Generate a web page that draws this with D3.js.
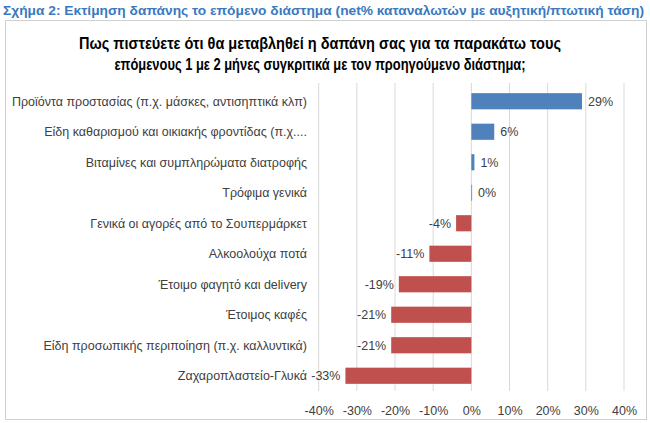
<!DOCTYPE html>
<html>
<head>
<meta charset="utf-8">
<script src="https://cdn.jsdelivr.net/npm/d3@7"></script>
<style>
  body { margin: 0; background: #fff; }
  text { font-family: "Liberation Sans", Arial, sans-serif; }
</style>
</head>
<body>
<div id="chart"></div>
<script>
// Chart data
const categories = [
  'Προϊόντα προστασίας (π.χ. μάσκες, αντισηπτικά κλπ)',
  'Είδη καθαρισμού και οικιακής φροντίδας (π.χ....',
  'Βιταμίνες και συμπληρώματα διατροφής',
  'Τρόφιμα γενικά',
  'Γενικά οι αγορές από το Σουπερμάρκετ',
  'Αλκοολούχα ποτά',
  'Έτοιμο φαγητό και delivery',
  'Έτοιμος καφές',
  'Είδη προσωπικής περιποίηση (π.χ. καλλυντικά)',
  'Ζαχαροπλαστείο-Γλυκά'
];
const values = [29, 6, 0.8, 0.2, -4, -11, -19, -21, -21, -33];
const tickValues = [-40, -30, -20, -10, 0, 10, 20, 30, 40];

const subtitle = 'Σχήμα 2: Εκτίμηση δαπάνης το επόμενο διάστημα (net% καταναλωτών με αυξητική/πτωτική τάση)';
const titleLines = [
  'Πως πιστεύετε ότι θα μεταβληθεί η δαπάνη σας για τα παρακάτω τους',
  'επόμενους 1 με 2 μήνες συγκριτικά με τον προηγούμενο διάστημα;'
];

const width = 650;
const height = 423;

const svg = d3.select('#chart').append('svg')
  .attr('width', width)
  .attr('height', height);

// Subtitle above the frame
svg.append('text')
  .attr('x', 3)
  .attr('y', 15)
  .attr('font-size', 12.5)
  .attr('font-weight', 'bold')
  .attr('fill', '#3a79c0')
  .attr('textLength', 641)
  .attr('lengthAdjust', 'spacingAndGlyphs')
  .text(subtitle);

// Frame around the chart
svg.append('rect')
  .attr('x', 5.5)
  .attr('y', 20.5)
  .attr('width', 641)
  .attr('height', 399)
  .attr('fill', '#fff')
  .attr('stroke', '#cfcfcf');

// Title (two lines, squeezed like a narrow font)
const titleLengths = [482, 411];
svg.selectAll('.title')
  .data(titleLines)
  .join('text')
  .attr('class', 'title')
  .attr('x', 320)
  .attr('y', (d, i) => 48.5 + i * 21)
  .attr('text-anchor', 'middle')
  .attr('font-size', 16.5)
  .attr('font-weight', 'bold')
  .attr('fill', '#000')
  .attr('textLength', (d, i) => titleLengths[i])
  .attr('lengthAdjust', 'spacingAndGlyphs')
  .text(d => d);

// Scales
const x = d3.scaleLinear()
  .domain([-40, 40])
  .range([318.7, 624]);

const y = d3.scaleBand()
  .domain(categories)
  .range([86, 391])
  .paddingInner(0.47)
  .paddingOuter(0.235);

// Gridlines
svg.append('g')
  .selectAll('line')
  .data(tickValues)
  .join('line')
  .attr('x1', d => x(d))
  .attr('x2', d => x(d))
  .attr('y1', 83)
  .attr('y2', 391)
  .attr('stroke', '#d9d9d9')
  .attr('stroke-width', 1);

// Bars
svg.append('g')
  .selectAll('rect')
  .data(values)
  .join('rect')
  .attr('x', d => x(Math.min(0, d)))
  .attr('y', (d, i) => y(categories[i]))
  .attr('width', d => Math.abs(x(d) - x(0)))
  .attr('height', y.bandwidth())
  .attr('fill', d => d >= 0 ? '#4f81bd' : '#c0504d');

// Value labels
svg.append('g')
  .selectAll('text')
  .data(values)
  .join('text')
  .attr('x', d => d >= 0 ? x(d) + 6 : x(d) - 5)
  .attr('y', (d, i) => y(categories[i]) + y.bandwidth() / 2)
  .attr('dy', '0.35em')
  .attr('text-anchor', d => d >= 0 ? 'start' : 'end')
  .attr('font-size', 12.5)
  .attr('fill', '#404040')
  .text(d => Math.round(d) + '%');

// Category labels
svg.append('g')
  .selectAll('text')
  .data(categories)
  .join('text')
  .attr('x', 307)
  .attr('y', d => y(d) + y.bandwidth() / 2)
  .attr('dy', '0.35em')
  .attr('text-anchor', 'end')
  .attr('font-size', 12.5)
  .attr('fill', '#404040')
  .text(d => d);

// X axis tick labels
const xAxis = svg.append('g')
  .attr('transform', 'translate(0,398)')
  .call(d3.axisBottom(x).tickValues(tickValues).tickSize(0).tickPadding(8).tickFormat(d => d + '%'));
xAxis.select('.domain').remove();
xAxis.selectAll('text')
  .attr('font-size', 12.5)
  .attr('font-family', '"Liberation Sans", Arial, sans-serif')
  .attr('fill', '#404040');
</script>
</body>
</html>
